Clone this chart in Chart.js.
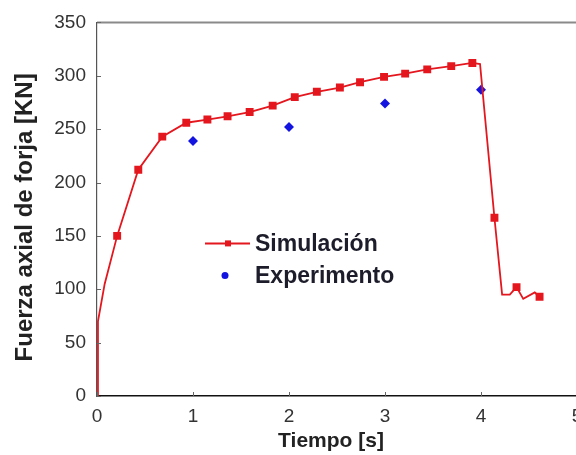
<!DOCTYPE html>
<html>
<head>
<meta charset="utf-8">
<script src="https://cdn.jsdelivr.net/npm/chart.js@4.4.1/dist/chart.umd.min.js"></script>
<style>
    html, body { margin: 0; padding: 0; background: #fff; overflow: hidden; }
    #wrap { width: 600px; height: 455px; }
</style>
</head>
<body>
<div id="wrap"><canvas id="forceChart"></canvas></div>
<script>
// Simulated curve (line) - time [s] and force [KN]
const simLineT = [0, 0.01, 0.08, 0.21, 0.43, 0.68, 0.93, 1.15, 1.36, 1.59, 1.83, 2.06, 2.29, 2.53, 2.74, 2.99, 3.21, 3.44, 3.69, 3.91, 3.99, 4.14, 4.22, 4.30, 4.37, 4.44, 4.56, 4.61];
const simLineF = [0, 70, 105, 150, 212, 243, 256, 259, 262, 266, 272, 280, 285, 289, 294, 299, 302, 306, 309, 312, 311, 167, 95, 95, 102, 91, 97, 93];

// Simulation markers
const simMarkT = [0.21, 0.43, 0.68, 0.93, 1.15, 1.36, 1.59, 1.83, 2.06, 2.29, 2.53, 2.74, 2.99, 3.21, 3.44, 3.69, 3.91, 4.14, 4.37, 4.61];
const simMarkF = [150, 212, 243, 256, 259, 262, 266, 272, 280, 285, 289, 294, 299, 302, 306, 309, 312, 167, 102, 93];

// Experimental points
const expT = [1, 2, 3, 4];
const expF = [239, 252, 274, 287];

const xTicks = [0, 1, 2, 3, 4, 5];
const yTicks = [0, 50, 100, 150, 200, 250, 300, 350];

const legendLabels = ['Simulación', 'Experimento'];
const xTitle = 'Tiempo [s]';
const yTitle = 'Fuerza axial de forja [KN]';

const RED = 'rgb(228, 22, 30)';
const BLUE = 'rgb(20, 20, 225)';
const FONT = '"Liberation Sans", Arial, sans-serif';

const toPoints = (xs, ys) => xs.map((x, i) => ({ x: x, y: ys[i] }));

// frame, inward ticks, axis titles and the inset legend
const framePlugin = {
    id: 'frame',
    afterDraw(chart) {
        const { ctx, chartArea: a, scales } = chart;
        ctx.save();
        // top and right border
        ctx.strokeStyle = '#8a8a8a';
        ctx.lineWidth = 2;
        ctx.beginPath();
        ctx.moveTo(a.left, a.top);
        ctx.lineTo(a.right, a.top);
        ctx.lineTo(a.right, a.bottom);
        ctx.stroke();

        // inward tick marks
        ctx.strokeStyle = '#666';
        ctx.lineWidth = 1;
        ctx.beginPath();
        yTicks.forEach(v => {
            const py = Math.round(scales.y.getPixelForValue(v)) + 0.5;
            ctx.moveTo(a.left, py);
            ctx.lineTo(a.left + 4, py);
        });
        xTicks.forEach(v => {
            const px = Math.round(scales.x.getPixelForValue(v)) + 0.5;
            ctx.moveTo(px, a.bottom);
            ctx.lineTo(px, a.bottom - 4);
        });
        ctx.stroke();

        // axis titles
        ctx.fillStyle = '#222';
        ctx.textAlign = 'center';
        ctx.textBaseline = 'alphabetic';
        ctx.font = 'bold 21px ' + FONT;
        ctx.fillText(xTitle, a.left + 234, 447);
        ctx.save();
        ctx.translate(32, a.top + 195);
        ctx.rotate(-Math.PI / 2);
        ctx.font = 'bold 24px ' + FONT;
        ctx.fillText(yTitle, 0, 0);
        ctx.restore();

        // legend
        const lx = a.left + 108;
        const ly1 = a.top + 221;
        const ly2 = a.top + 253;
        ctx.strokeStyle = RED;
        ctx.lineWidth = 2;
        ctx.beginPath();
        ctx.moveTo(lx, ly1);
        ctx.lineTo(lx + 45, ly1);
        ctx.stroke();
        ctx.fillStyle = RED;
        ctx.fillRect(lx + 20, ly1 - 3, 6, 6);
        ctx.fillStyle = BLUE;
        ctx.beginPath();
        ctx.arc(lx + 20, ly2, 3.5, 0, Math.PI * 2);
        ctx.fill();

        ctx.fillStyle = '#1c1c2a';
        ctx.font = 'bold 23px ' + FONT;
        ctx.textBaseline = 'middle';
        ctx.textAlign = 'left';
        ctx.fillText(legendLabels[0], lx + 50, ly1 + 1);
        ctx.fillText(legendLabels[1], lx + 50, ly2 + 1);
        ctx.restore();
    }
};

const ctx = document.getElementById('forceChart');

new Chart(ctx, {
    type: 'scatter',
    data: {
        datasets: [
            {
                label: legendLabels[0],
                data: toPoints(simLineT, simLineF),
                showLine: true,
                borderColor: RED,
                borderWidth: 1.8,
                pointRadius: 0,
                fill: false
            },
            {
                label: legendLabels[0] + ' markers',
                data: toPoints(simMarkT, simMarkF),
                showLine: false,
                pointStyle: 'rect',
                pointRadius: 5.6,
                backgroundColor: RED,
                borderColor: RED,
                borderWidth: 0
            },
            {
                label: legendLabels[1],
                data: toPoints(expT, expF),
                showLine: false,
                pointStyle: 'rectRot',
                pointRadius: 5,
                backgroundColor: BLUE,
                borderColor: BLUE,
                borderWidth: 0
            }
        ]
    },
    options: {
        responsive: true,
        maintainAspectRatio: false,
        animation: false,
        layout: {
            padding: { top: 22, right: 23, bottom: 0, left: 0 }
        },
        plugins: {
            legend: { display: false },
            tooltip: { enabled: false }
        },
        scales: {
            x: {
                type: 'linear',
                min: 0,
                max: 5,
                afterFit: s => { s.height = 59; },
                afterBuildTicks: s => { s.ticks = xTicks.map(v => ({ value: v })); },
                grid: { display: false, drawTicks: false },
                border: { display: true, color: '#111', width: 1.6 },
                ticks: {
                    padding: 9,
                    color: '#333',
                    font: { family: FONT, size: 19 }
                }
            },
            y: {
                type: 'linear',
                min: 0,
                max: 350,
                afterFit: s => { s.width = 97; },
                afterBuildTicks: s => { s.ticks = yTicks.map(v => ({ value: v })); },
                grid: { display: false, drawTicks: false },
                border: { display: true, color: '#555', width: 1.2 },
                ticks: {
                    padding: 11,
                    color: '#333',
                    font: { family: FONT, size: 19 }
                }
            }
        }
    },
    plugins: [framePlugin]
});
</script>
</body>
</html>
